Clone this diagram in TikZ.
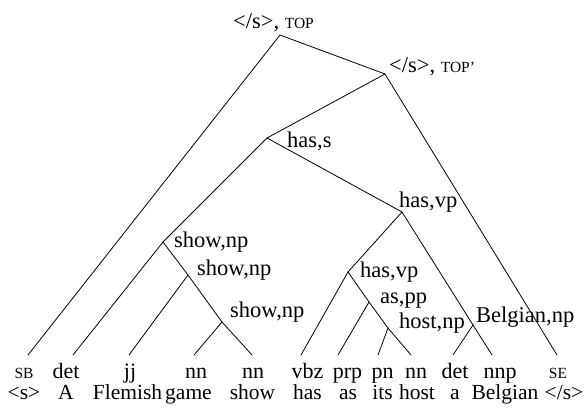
\documentclass[tikz,border=0pt]{standalone}
\usepackage{fontspec}
\setmainfont{Liberation Serif}
\newcommand{\smcap}[1]{{\fontsize{15.5}{15.5}\selectfont #1}}
\tikzset{
  lab/.style={anchor=base west, inner sep=0pt, font=\fontsize{22.5}{22.5}\selectfont},
  tagtext/.style={anchor=base, inner sep=0pt, font=\fontsize{22}{22}\selectfont},
  wordtext/.style={anchor=base, inner sep=0pt, font=\fontsize{21.5}{21.5}\selectfont},
  edge/.style={line width=0.8pt, line cap=round, line join=round}
}
\begin{document}
\begin{tikzpicture}[x=1pt,y=-1pt]
\useasboundingbox (0,0) rectangle (586,410);
% internal node apexes
\coordinate (top) at (280,35);
\coordinate (topp) at (385,74);
\coordinate (hass) at (267,138);
\coordinate (hasvp) at (402,212);
\coordinate (shownpa) at (163,242);
\coordinate (shownpb) at (188,275);
\coordinate (shownpc) at (222,322);
\coordinate (hasvpb) at (348,272);
\coordinate (aspp) at (369,302);
\coordinate (hostnp) at (388,328);
\coordinate (belgnp) at (473,325);
% leaf ends
\coordinate (l1) at (28,355);
\coordinate (l2) at (73,355);
\coordinate (l3) at (129,355);
\coordinate (l4) at (194,355);
\coordinate (l5) at (252,355);
\coordinate (l6) at (301,355);
\coordinate (l7) at (338,355);
\coordinate (l8) at (378,355);
\coordinate (l9) at (411,355);
\coordinate (l10) at (453,355);
\coordinate (l11) at (492,355);
\coordinate (l12) at (557,355);
% labels
\node[lab] (ltop) at (233,28) {</s>, \smcap{TOP}};
\node[lab] (ltopp) at (389,72) {</s>, \smcap{TOP’}};
\node[lab] (lhass) at (287,147) {has,s};
\node[lab] (lhasvp) at (399,207) {has,vp};
\node[lab] (lshownpa) at (174,247) {show,np};
\node[lab] (lshownpb) at (197,275) {show,np};
\node[lab] (lshownpc) at (230,317) {show,np};
\node[lab] (lhasvpb) at (360,277) {has,vp};
\node[lab] (laspp) at (380,303) {as,pp};
\node[lab] (lhostnp) at (399,328) {host,np};
\node[lab] (lbelgnp) at (476,322) {Belgian,np};
% edges
\draw[edge] (l1) -- (top) -- (topp) -- (l12);
\draw[edge] (topp) -- (hass);
\draw[edge] (shownpa) -- (hass) -- (hasvp);
\draw[edge] (l2) -- (shownpa) -- (shownpb);
\draw[edge] (l3) -- (shownpb) -- (shownpc);
\draw[edge] (l4) -- (shownpc) -- (l5);
\draw[edge] (hasvpb) -- (hasvp) -- (belgnp);
\draw[edge] (l6) -- (hasvpb) -- (aspp);
\draw[edge] (l7) -- (aspp) -- (hostnp);
\draw[edge] (l8) -- (hostnp) -- (l9);
\draw[edge] (l10) -- (belgnp) -- (l11);
% tags
\node[tagtext] (t1) at (24,378) {\smcap{SB}};
\node[tagtext] (t2) at (66,378) {det};
\node[tagtext] (t3) at (130,378) {jj};
\node[tagtext] (t4) at (196,378) {nn};
\node[tagtext] (t5) at (253,378) {nn};
\node[tagtext] (t6) at (307.5,378) {vbz};
\node[tagtext] (t7) at (347.5,378) {prp};
\node[tagtext] (t8) at (382.5,378) {pn};
\node[tagtext] (t9) at (416,378) {nn};
\node[tagtext] (t10) at (455,378) {det};
\node[tagtext] (t11) at (500,378) {nnp};
\node[tagtext] (t12) at (558,378) {\smcap{SE}};
% words
\node[wordtext] (w1) at (24,399) {<s>};
\node[wordtext] (w2) at (66,399) {A};
\node[wordtext] (w3) at (127.5,399) {Flemish};
\node[wordtext] (w4) at (188.5,399) {game};
\node[wordtext] (w5) at (252.5,399) {show};
\node[wordtext] (w6) at (307.5,399) {has};
\node[wordtext] (w7) at (348,399) {as};
\node[wordtext] (w8) at (382.5,399) {its};
\node[wordtext] (w9) at (417,399) {host};
\node[wordtext] (w10) at (455,399) {a};
\node[wordtext] (w11) at (505,399) {Belgian};
\node[wordtext] (w12) at (564,399) {</s>};
\end{tikzpicture}
\end{document}
